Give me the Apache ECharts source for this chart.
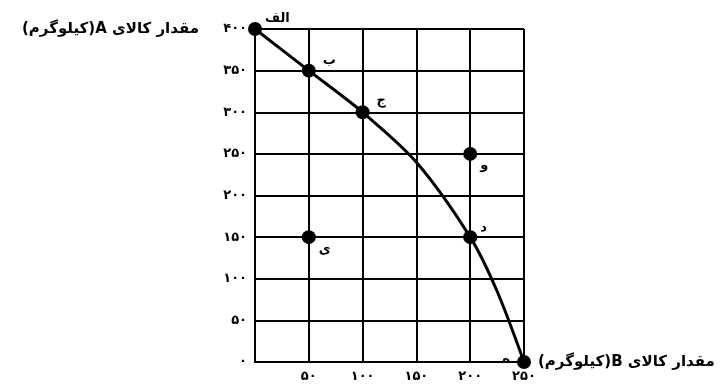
<!DOCTYPE html>
<html>
<head>
<meta charset="utf-8">
<script src="https://cdn.jsdelivr.net/npm/echarts@6/dist/echarts.min.js"></script>
<style>
  html, body { margin: 0; padding: 0; background: #fff; }
  #chart { width: 727px; height: 386px; }
</style>
</head>
<body>
<div id="chart"></div>
<script>
// داده‌ها
const xTickValues = [0, 50, 100, 150, 200, 250]
const xTickLabels = ['', '۵۰', '۱۰۰', '۱۵۰', '۲۰۰', '۲۵۰']
const yTickValues = [0, 50, 100, 150, 200, 250, 300, 350, 400]
const yTickLabels = ['۰', '۵۰', '۱۰۰', '۱۵۰', '۲۰۰', '۲۵۰', '۳۰۰', '۳۵۰', '۴۰۰']
// منحنی امکانات تولید
const curveX = [0, 50, 100, 150, 200, 225, 250]
const curveY = [400, 350, 300, 240, 150, 85, 0]
// نقاط
const pointNames = ['الف', 'ب', 'ج', 'د', 'ه', 'و', 'ی']
const pointX = [0, 50, 100, 200, 250, 200, 50]
const pointY = [400, 350, 300, 150, 0, 250, 150]
const pointLabelPos = ['right', 'right', 'right', 'right', 'left', 'right', 'right']
const pointLabelOffset = [[0, -10], [4, -10], [4, -12], [0, -10], [-4, -2], [0, 12], [0, 12]]

const font = 'DejaVu Sans'
const rtl = (s) => '\u202B' + s + '\u202C'
const myChart = echarts.init(document.getElementById('chart'))

function tickLabel(values, labels) {
  return (v) => {
    const i = values.indexOf(v)
    return i >= 0 ? labels[i] : ''
  }
}

const option = {
  animation: false,
  grid: { left: 255, top: 29, right: 203, bottom: 24 },
  xAxis: {
    type: 'value',
    min: 0, max: 250, interval: 50,
    name: rtl('مقدار کالای B(کیلوگرم)'),
    nameLocation: 'end',
    nameGap: 14,
    nameTextStyle: { color: '#000', fontFamily: font, fontWeight: 'bold', fontSize: 15, align: 'left', verticalAlign: 'middle', padding: [0, 0, 8, 0] },
    axisLine: { lineStyle: { color: '#000', width: 2 } },
    axisTick: { show: false },
    axisLabel: { color: '#000', fontFamily: font, fontWeight: 'bold', fontSize: 13, margin: 8, formatter: tickLabel(xTickValues, xTickLabels) },
    splitLine: { show: true, lineStyle: { color: '#000', width: 2 } }
  },
  yAxis: {
    type: 'value',
    min: 0, max: 400, interval: 50,
    name: rtl('مقدار کالای A(کیلوگرم)'),
    nameLocation: 'end',
    nameGap: 0,
    nameTextStyle: { color: '#000', fontFamily: font, fontWeight: 'bold', fontSize: 15, align: 'right', verticalAlign: 'middle', padding: [0, 56, 0, 0] },
    axisLine: { lineStyle: { color: '#000', width: 2 } },
    axisTick: { show: false },
    axisLabel: { color: '#000', fontFamily: font, fontWeight: 'bold', fontSize: 13, margin: 8, formatter: tickLabel(yTickValues, yTickLabels) },
    splitLine: { show: true, lineStyle: { color: '#000', width: 2 } }
  },
  series: [
    {
      type: 'line',
      smooth: 0.3,
      showSymbol: false,
      lineStyle: { color: '#000', width: 3 },
      data: curveX.map((x, i) => [x, curveY[i]]),
      z: 3
    },
    {
      type: 'scatter',
      symbolSize: 14,
      itemStyle: { color: '#000', opacity: 1 },
      data: pointX.map((x, i) => ({
        value: [x, pointY[i]],
        label: {
          show: true,
          formatter: pointNames[i],
          position: pointLabelPos[i],
          distance: 3,
          offset: pointLabelOffset[i],
          color: '#000',
          fontFamily: font,
          fontWeight: 'bold',
          fontSize: 13
        }
      })),
      z: 4
    }
  ]
}

myChart.setOption(option)
</script>
</body>
</html>
